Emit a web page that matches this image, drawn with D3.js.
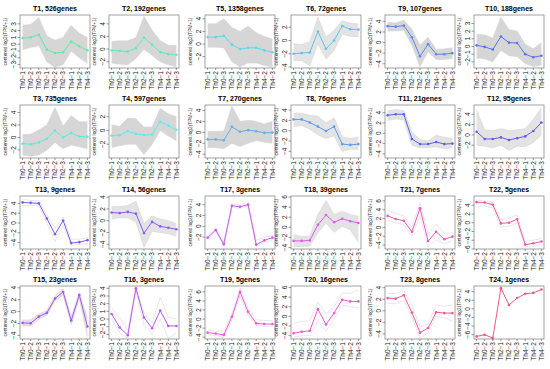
<!DOCTYPE html>
<html>
<head>
<meta charset="utf-8">
<script src="https://cdn.jsdelivr.net/npm/d3@7"></script>
<style>
body { margin: 0; background: #fff; }
text { font-family: "Liberation Sans", Arial, sans-serif; }
</style>
</head>
<body>
<div id="chart"></div>
<script>
// sample labels (x axis)
var samples = ["Th0\u22121", "Th0\u22122", "Th0\u22123", "Th2\u22121", "Th2\u22122", "Th2\u22123", "Th4\u22121", "Th4\u22122", "Th4\u22123"];

// cluster sizes, T1..T24
var geneCounts = [526, 192, 735, 597, 1358, 72, 270, 76, 107, 188, 21, 95, 9, 56, 23, 3, 3, 39, 5, 16, 7, 5, 8, 1];

// where each cluster sits on the page (rows of cluster numbers)
var panelGrid = [
  [1, 2, 5, 6, 9, 10],
  [3, 4, 7, 8, 11, 12],
  [13, 14, 17, 18, 21, 22],
  [15, 16, 19, 20, 23, 24]
];

// y range of every panel, T1..T24
var yDomains = [
  [-3.5, 4.3], [-3.0, 5.4], [-3.3, 5.2], [-4.0, 3.7], [-3.8, 4.6], [-4.15, 3.85],
  [-4.7, 5.0], [-5.3, 5.0], [-4.8, 5.2], [-2.8, 4.1], [-4.8, 5.5], [-4.5, 5.8],
  [-5.3, 5.5], [-4.8, 4.2], [-4.6, 4.3], [-2.6, 4.3], [-4.2, 5.6], [-4.3, 6.2],
  [-4.4, 7.3], [-4.7, 6.3], [-4.9, 7.1], [-6.0, 6.1], [-4.9, 4.3], [-7.0, 5.3]
];

var yTickSets = [
  [-3, -2, -1, 0, 1, 2, 3], [-2, 0, 2, 4], [-2, 0, 2, 4], [-2, 0, 2], [-2, 0, 2, 4], [-4, -2, 0, 2],
  [-4, -2, 0, 2, 4], [-4, -2, 0, 2, 4], [-4, -2, 0, 2, 4], [-2, -1, 0, 1, 2, 3], [-4, -2, 0, 2, 4], [-2, 0, 2, 4],
  [-4, -2, 0, 2, 4], [-4, -2, 0, 2, 4], [-4, -2, 0, 2, 4], [-2, -1, 0, 1, 2, 3, 4], [-2, 0, 2, 4], [-4, -2, 0, 2, 4, 6],
  [-4, -2, 0, 2, 4, 6], [-4, -2, 0, 2, 4, 6], [-4, -2, 0, 2, 4, 6], [-6, -4, -2, 0, 2, 4], [-4, -2, 0, 2, 4], [-6, -4, -2, 0, 2, 4]
];

// cluster mean profiles
var meanProfiles = [
  [0.9, 1.0, 1.4, -0.8, -1.3, -1.2, 0.4, -0.3, -0.9],
  [-0.2, -0.3, -0.4, 0.15, 1.8, 0.7, -0.5, -0.8, -0.9],
  [-1.0, -1.1, -0.8, -0.2, 1.1, 0.0, 0.7, 0.15, 0.1],
  [-0.75, -0.7, -0.1, -0.5, -0.65, -0.6, 1.3, 0.7, 0.1],
  [1.1, 1.1, 1.3, -0.1, -0.8, -0.6, -0.6, -1.0, -1.3],
  [-2.0, -1.9, -1.8, 1.35, -1.25, 0.0, 2.2, 1.7, 1.65],
  [-1.3, -1.3, -1.45, 1.0, 0.1, 0.4, 0.2, -0.1, -0.05],
  [2.2, 2.2, 1.6, 0.8, -0.05, 0.8, -2.6, -2.75, -2.6],
  [3.1, 3.0, 3.2, 1.0, -2.6, -0.3, -2.2, -2.2, -2.0],
  [0.15, -0.05, -0.4, 1.3, 0.5, 0.45, -1.0, -1.4, -1.2],
  [3.5, 3.7, 3.7, -1.1, -2.1, -2.1, -1.7, -2.1, -2.0],
  [0.6, -0.8, -0.8, -0.5, -1.0, -0.65, -0.3, 0.75, 2.4],
  [4.2, 4.1, 4.0, 0.9, -2.3, 0.5, -4.1, -3.9, -3.5],
  [1.4, 1.3, 1.5, 1.2, -2.1, -0.2, -0.95, -1.2, -1.45],
  [-1.9, -1.95, -0.85, -0.2, 2.2, 3.3, -1.5, 2.8, -2.5],
  [0.65, -1.1, -2.1, 4.0, 0.2, -1.2, 1.1, -0.9, -0.9],
  [-2.1, -0.7, -3.3, 3.8, 3.6, 4.0, -3.4, -2.6, -2.1],
  [-2.7, -2.7, -2.6, 0.5, 2.45, 1.0, 1.7, 1.2, 0.85],
  [-3.0, -3.2, -3.5, 0.5, 6.0, 1.6, -0.95, -1.1, -1.1],
  [-3.5, -3.2, -3.0, 1.5, -1.7, 0.7, 3.45, 3.1, 3.1],
  [2.6, 1.9, 1.5, -1.0, 4.3, -3.1, -1.0, -2.7, -2.1],
  [4.7, 4.6, 4.1, -0.15, 0.0, 0.8, -5.0, -4.7, -4.3],
  [2.2, 2.1, 2.7, -0.3, -3.8, -3.0, -0.25, -0.4, -0.4],
  [-6.4, -6.0, -6.8, 4.8, 0.9, 2.5, 3.5, 3.7, 4.5]
];

// upper and lower edge of the member genes (grey lines)
var upperBounds = [
  [2.8, 2.9, 3.9, 1.2, 0.6, 1.0, 2.8, 1.6, 1.0],
  [1.2, 1.3, 1.3, 1.8, 5.2, 3.0, 1.3, 0.6, 0.6],
  [0.5, 0.5, 1.2, 2.0, 4.8, 1.8, 3.5, 2.5, 2.5],
  [0.8, 0.6, 1.8, 1.7, 0.5, 0.5, 3.2, 2.4, 2.0],
  [3.2, 3.2, 4.0, 2.6, 2.0, 2.8, 1.8, 1.2, 0.8],
  [-0.5, -0.6, -0.2, 3.5, 0.5, 1.5, 3.0, 2.6, 2.5],
  [0.2, 0.2, 0.2, 4.8, 2.0, 2.2, 2.0, 1.5, 2.0],
  [3.4, 3.4, 3.0, 2.8, 1.5, 2.5, -1.2, -1.5, -1.2],
  [3.8, 3.7, 4.2, 2.5, -0.5, 1.0, -1.3, -1.2, -1.0],
  [1.6, 1.5, 1.1, 3.8, 2.2, 2.0, 0.3, -0.3, 0.5],
  [4.4, 4.6, 4.4, 0.3, -1.2, -1.5, -0.4, -0.8, -1.0],
  [4.8, 1.0, 0.8, 1.2, 0.8, 1.0, 1.2, 3.0, 5.2],
  [4.8, 4.6, 4.5, 1.7, -1.0, 1.2, -3.3, -3.3, -3.0],
  [2.4, 2.4, 2.6, 3.3, -0.5, 0.8, 0.3, 0.0, -0.5],
  [-1.4, -1.4, -0.4, 0.2, 2.6, 3.8, -0.8, 3.2, -1.0],
  [1.4, 0.2, -1.5, 4.1, 0.8, -0.5, 2.8, 0.2, 0.0],
  [-1.8, -0.3, -3.0, 4.1, 3.9, 4.2, -2.6, -2.0, -1.7],
  [-1.5, -1.8, -1.8, 2.5, 5.3, 2.5, 3.2, 2.5, 2.2],
  [-2.4, -2.6, -2.8, 1.2, 6.8, 2.4, -0.2, -0.3, -0.4],
  [-1.5, -1.0, -1.0, 3.0, 0.5, 2.0, 4.8, 4.8, 5.5],
  [3.8, 3.2, 2.6, 0.0, 5.6, -1.5, 0.8, -1.5, -1.2],
  [5.2, 5.0, 4.6, 0.6, 1.0, 1.8, -4.3, -4.0, -3.6],
  [3.0, 3.0, 3.5, 1.0, -2.8, -2.2, 1.0, 0.8, 1.0],
  null
];

var lowerBounds = [
  [-0.8, -0.5, -0.2, -2.6, -3.4, -3.0, -1.0, -2.0, -2.8],
  [-2.2, -2.4, -2.5, -1.5, 0.0, -1.0, -2.0, -2.5, -2.8],
  [-2.8, -3.0, -2.8, -2.0, -0.8, -1.8, -1.2, -1.5, -1.8],
  [-2.5, -2.2, -2.0, -2.0, -3.5, -2.0, 0.0, -0.8, -1.5],
  [-0.5, -0.5, -0.6, -2.8, -3.6, -3.0, -3.0, -3.4, -3.6],
  [-3.0, -3.0, -3.8, -0.5, -2.8, -1.5, 1.0, 0.6, 0.6],
  [-2.8, -2.8, -3.0, -2.0, -2.6, -2.0, -1.5, -1.8, -2.0],
  [0.8, 1.0, 0.3, -0.8, -1.5, -1.0, -4.0, -3.6, -3.6],
  [2.2, 2.2, 2.3, -0.5, -4.5, -1.7, -3.2, -3.2, -3.0],
  [-1.5, -1.6, -2.0, -0.5, -1.2, -1.3, -2.2, -2.6, -2.4],
  [2.5, 2.8, 2.6, -2.3, -2.8, -2.8, -2.6, -3.0, -2.8],
  [-2.0, -2.2, -2.5, -2.0, -3.0, -2.2, -2.3, -1.5, 0.0],
  [3.5, 3.6, 3.5, 0.0, -3.8, -0.5, -4.6, -4.4, -4.2],
  [0.3, 0.5, 0.5, -0.2, -4.5, -1.8, -2.0, -2.2, -2.6],
  [-2.4, -2.4, -1.3, -0.6, 1.8, 2.8, -2.2, 2.2, -4.3],
  [0.0, -1.8, -2.5, 3.7, -0.8, -2.0, 0.0, -2.5, -1.8],
  [-2.4, -1.0, -3.6, 3.5, 3.3, 3.8, -3.7, -3.0, -2.5],
  [-3.8, -3.8, -3.7, -1.0, 0.8, -1.0, 0.2, -0.5, -3.0],
  [-3.5, -3.6, -4.0, -0.2, 5.2, 0.8, -1.4, -1.6, -1.6],
  [-4.3, -4.0, -4.0, -1.0, -3.0, -0.6, 2.4, 2.0, 1.8],
  [1.6, 1.0, 0.6, -2.0, 2.6, -4.5, -2.8, -3.8, -3.0],
  [3.6, 3.8, 3.4, -1.0, -0.8, 0.0, -5.6, -5.4, -5.0],
  [1.3, 1.2, 1.8, -1.0, -4.8, -3.8, -1.0, -1.2, -1.8],
  null
];

var colCenters = [55, 144, 240, 326, 420, 509];
var rowTops = [0, 90, 181, 271];
var boxW = 70, boxH = 53;

var svg = d3.select("#chart").append("svg")
  .attr("width", 550).attr("height", 369);

// rainbow-ish ramp from mint green (T1) to pink-red (T24)
var hue = d3.scaleLinear().domain([0, 23]).range([155, 345]);
function clusterColor(i) { return d3.hsl(hue(i), 0.8, 0.64).formatHex(); }

panelGrid.forEach(function (row, r) {
  row.forEach(function (t, c) {
    var i = t - 1;
    var left = colCenters[c] - boxW / 2;
    var top = rowTops[r] + 15;
    var g = svg.append("g").attr("transform", "translate(" + left + "," + top + ")");

    var x = d3.scaleLinear().domain([0.68, 9.32]).range([0, boxW]);
    var y = d3.scaleLinear().domain(yDomains[i]).range([boxH, 0]);
    var line = d3.line().x(function (d, k) { return x(k + 1); }).y(function (d) { return y(d); });
    var n = geneCounts[i];

    // member genes
    if (upperBounds[i]) {
      var band = d3.range(9).map(function (k) { return [upperBounds[i][k], lowerBounds[i][k]]; });
      if (n >= 20) {
        g.append("path")
          .attr("d", d3.area().x(function (d, k) { return x(k + 1); })
            .y0(function (d) { return y(d[1]); }).y1(function (d) { return y(d[0]); })(band))
          .attr("fill", n >= 100 ? "#d6d6d6" : "#e3e3e3");
      }
      [upperBounds[i], lowerBounds[i]].forEach(function (b) {
        g.append("path").attr("d", line(b)).attr("fill", "none")
          .attr("stroke", n >= 20 ? "#d4d4d4" : "#d6d6d6").attr("stroke-width", 0.6);
      });
    }

    var col = clusterColor(i);
    g.append("path").attr("d", line(meanProfiles[i])).attr("fill", "none")
      .attr("stroke", col).attr("stroke-width", 1);
    g.selectAll("circle").data(meanProfiles[i]).join("circle")
      .attr("cx", function (d, k) { return x(k + 1); })
      .attr("cy", function (d) { return y(d); })
      .attr("r", 1.3).attr("fill", col);

    // frame
    g.append("rect").attr("width", boxW).attr("height", boxH)
      .attr("fill", "none").attr("stroke", "#8a8a8a").attr("stroke-width", 0.8);

    // y axis
    var yt = g.selectAll(".yt").data(yTickSets[i]).join("g")
      .attr("transform", function (d) { return "translate(0," + y(d) + ")"; });
    yt.append("line").attr("x1", -2.5).attr("x2", 0).attr("stroke", "#555").attr("stroke-width", 0.6);
    yt.append("text").attr("transform", "translate(-4.5,0) rotate(-90)")
      .attr("text-anchor", "middle").attr("font-size", 6.5).attr("fill", "#222")
      .text(function (d) { return d < 0 ? "\u2212" + Math.abs(d) : d; });

    // x axis
    var xt = g.selectAll(".xt").data(samples).join("g")
      .attr("transform", function (d, k) { return "translate(" + x(k + 1) + "," + boxH + ")"; });
    xt.append("line").attr("y1", 0).attr("y2", 2).attr("stroke", "#555").attr("stroke-width", 0.6);
    xt.append("text").attr("transform", "translate(2.3,3) rotate(-90)")
      .attr("text-anchor", "end").attr("font-size", 6.5).attr("fill", "#222")
      .text(function (d) { return d; });

    g.append("text").attr("transform", "translate(-13," + boxH / 2 + ") rotate(-90)")
      .attr("text-anchor", "middle").attr("font-size", 4.8).attr("fill", "#333")
      .text("centered log2(TPM+1)");

    g.append("text").attr("x", boxW / 2).attr("y", -4)
      .attr("text-anchor", "middle").attr("font-size", 7).attr("font-weight", "bold")
      .text("T" + t + ", " + n + "genes");
  });
});
</script>
</body>
</html>
